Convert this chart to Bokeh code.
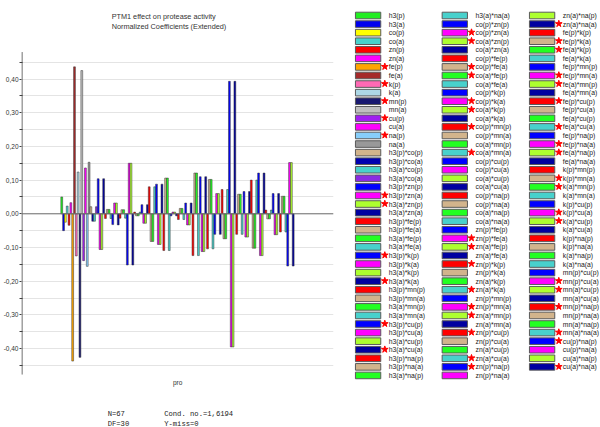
from bokeh.plotting import figure
from bokeh.models import ColumnDataSource, Range1d, FixedTicker, CustomJSTickFormatter, Span
from bokeh.layouts import row
from bokeh.embed import file_html
from bokeh.resources import INLINE
from bokeh.core.properties import value

# ---------------- data ----------------
terms = [
    "h3(p)", "h3(a)", "co(p)", "co(a)", "zn(p)", "zn(a)", "fe(p)", "fe(a)",
    "k(p)", "k(a)", "mn(p)", "mn(a)", "cu(p)", "cu(a)", "na(p)", "na(a)",
    "h3(p)*co(p)", "h3(p)*co(a)", "h3(a)*co(p)", "h3(a)*co(a)",
    "h3(p)*zn(p)", "h3(p)*zn(a)", "h3(a)*zn(p)", "h3(a)*zn(a)",
    "h3(p)*fe(p)", "h3(p)*fe(a)", "h3(a)*fe(p)", "h3(a)*fe(a)",
    "h3(p)*k(p)", "h3(p)*k(a)", "h3(a)*k(p)", "h3(a)*k(a)",
    "h3(p)*mn(p)", "h3(p)*mn(a)", "h3(a)*mn(p)", "h3(a)*mn(a)",
    "h3(p)*cu(p)", "h3(p)*cu(a)", "h3(a)*cu(p)", "h3(a)*cu(a)",
    "h3(p)*na(p)", "h3(p)*na(a)", "h3(a)*na(p)", "h3(a)*na(a)",
    "co(p)*zn(p)", "co(p)*zn(a)", "co(a)*zn(p)", "co(a)*zn(a)",
    "co(p)*fe(p)", "co(p)*fe(a)", "co(a)*fe(p)", "co(a)*fe(a)",
    "co(p)*k(p)", "co(p)*k(a)", "co(a)*k(p)", "co(a)*k(a)",
    "co(p)*mn(p)", "co(p)*mn(a)", "co(a)*mn(p)", "co(a)*mn(a)",
    "co(p)*cu(p)", "co(p)*cu(a)", "co(a)*cu(p)", "co(a)*cu(a)",
    "co(p)*na(p)", "co(p)*na(a)", "co(a)*na(p)", "co(a)*na(a)",
    "zn(p)*fe(p)", "zn(p)*fe(a)", "zn(a)*fe(p)", "zn(a)*fe(a)",
    "zn(p)*k(p)", "zn(p)*k(a)", "zn(a)*k(p)", "zn(a)*k(a)",
    "zn(p)*mn(p)", "zn(p)*mn(a)", "zn(a)*mn(p)", "zn(a)*mn(a)",
    "zn(p)*cu(p)", "zn(p)*cu(a)", "zn(a)*cu(p)", "zn(a)*cu(a)",
    "zn(p)*na(p)", "zn(p)*na(a)", "zn(a)*na(p)", "zn(a)*na(a)",
    "fe(p)*k(p)", "fe(p)*k(a)", "fe(a)*k(p)", "fe(a)*k(a)",
    "fe(p)*mn(p)", "fe(p)*mn(a)", "fe(a)*mn(p)", "fe(a)*mn(a)",
    "fe(p)*cu(p)", "fe(p)*cu(a)", "fe(a)*cu(p)", "fe(a)*cu(a)",
    "fe(p)*na(p)", "fe(p)*na(a)", "fe(a)*na(p)", "fe(a)*na(a)",
    "k(p)*mn(p)", "k(p)*mn(a)", "k(a)*mn(p)", "k(a)*mn(a)",
    "k(p)*cu(p)", "k(p)*cu(a)", "k(a)*cu(p)", "k(a)*cu(a)",
    "k(p)*na(p)", "k(p)*na(a)", "k(a)*na(p)", "k(a)*na(a)",
    "mn(p)*cu(p)", "mn(p)*cu(a)", "mn(a)*cu(p)", "mn(a)*cu(a)",
    "mn(p)*na(p)", "mn(p)*na(a)", "mn(a)*na(p)", "mn(a)*na(a)",
    "cu(p)*na(p)", "cu(p)*na(a)", "cu(a)*na(p)", "cu(a)*na(a)",
]

coefficients = [
    0.050, -0.050, -0.025, 0.023, -0.034, 0.033, -0.437, 0.436,
    -0.125, 0.124, -0.426, 0.425, -0.139, 0.136, -0.156, 0.153,
    0.021, -0.022, -0.022, 0.021,
    0.104, -0.106, -0.106, 0.104,
    -0.014, 0.013, 0.013, -0.014,
    -0.032, 0.032, 0.032, -0.033,
    -0.013, 0.012, 0.012, -0.013,
    -0.152, 0.150, 0.150, -0.152,
    0.005, -0.006, -0.006, 0.005,
    0.027, -0.028, -0.028, 0.027,
    0.080, -0.082, -0.082, 0.080,
    0.088, -0.091, -0.091, 0.088,
    -0.109, 0.106, 0.106, -0.109,
    -0.006, 0.005, 0.005, -0.006,
    -0.017, 0.016, 0.016, -0.017,
    0.032, -0.033, -0.033, 0.032,
    -0.124, 0.121, 0.121, -0.124,
    0.110, -0.112, -0.112, 0.110,
    -0.104, 0.102, 0.102, -0.104,
    -0.061, 0.060, 0.060, -0.061,
    0.072, -0.074, -0.074, 0.072,
    0.393, -0.395, -0.395, 0.393,
    -0.061, 0.058, 0.058, -0.061,
    0.066, -0.069, -0.069, 0.066,
    0.100, -0.102, -0.102, 0.100,
    0.121, -0.124, -0.124, 0.121,
    0.011, -0.015, -0.015, 0.011,
    0.060, -0.062, -0.062, 0.060,
    -0.054, 0.052, 0.052, -0.054,
    -0.155, 0.152, 0.152, -0.155,
]

starred_terms = [
    "fe(p)", "k(p)", "mn(p)", "cu(p)", "na(p)",
    "h3(p)*zn(a)", "h3(a)*zn(p)", "h3(p)*k(p)", "h3(a)*k(a)",
    "h3(p)*cu(p)", "h3(a)*cu(a)",
    "co(p)*zn(a)", "co(a)*zn(p)", "co(p)*fe(a)", "co(a)*fe(p)",
    "co(p)*k(a)", "co(a)*k(p)", "co(p)*mn(p)", "co(a)*mn(a)",
    "zn(p)*fe(a)", "zn(a)*fe(p)", "zn(p)*k(p)", "zn(a)*k(a)",
    "zn(p)*mn(a)", "zn(a)*mn(p)", "zn(p)*cu(p)", "zn(a)*cu(a)",
    "zn(p)*na(p)", "zn(a)*na(a)",
    "fe(p)*k(a)", "fe(a)*k(p)", "fe(p)*mn(a)", "fe(a)*mn(p)",
    "fe(p)*cu(p)", "fe(a)*cu(a)", "fe(p)*na(a)", "fe(a)*na(p)",
    "k(p)*mn(a)", "k(a)*mn(p)", "k(p)*cu(a)", "k(a)*cu(p)",
    "mn(p)*cu(a)", "mn(a)*cu(p)", "mn(p)*na(p)", "mn(a)*na(a)",
    "cu(p)*na(p)", "cu(a)*na(a)",
]

y_tick_values = [-0.40, -0.30, -0.20, -0.10, 0.00, 0.10, 0.20, 0.30, 0.40]
y_minor_values = [-0.45, -0.35, -0.25, -0.15, -0.05, 0.05, 0.15, 0.25, 0.35, 0.45]
axis_extent = [-0.477, 0.480]

title_lines = ["PTM1 effect on protease activity", "Normalized Coefficients (Extended)"]
x_label = "pro"
stats_left = ["N=67", "DF=30"]
stats_right = ["Cond. no.=1,6194", "Y-miss=0"]

# ---------------- styles ----------------
head_colors = ["#22ee22", "#0000ee", "#ffff00", "#48d1cc", "#ff0000", "#ff00ff",
               "#ffa500", "#a52a2a", "#ff69b4", "#add8e6", "#191970", "#c0c0c0",
               "#a020f0", "#ff00ff", "#87cefa", "#999999", "#d2b48c", "#0000b0",
               "#48d1cc", "#8a2be2"]
cycle_colors = ["#ff0000", "#d2b48c", "#22ff22", "#48d1cc", "#0000ff", "#ff00ff",
                "#adff2f", "#0000a0"]
colors = [head_colors[i] if i < len(head_colors) else cycle_colors[i % 8]
          for i in range(len(terms))]

# ---------------- geometry (page pixels) ----------------
W_CHART, W_LEG, H = 350, 250, 427
PITCH = 1.84            # px per bar
BAR0_PX = 57.7          # x of first bar
FRAME_LEFT_PX = 18.0
FRAME_RIGHT_PX = 333.0
ZERO_PX = 213.3         # y of value 0
UNIT_PX = 337.0         # px per 1.0 of coefficient

x_start = -(BAR0_PX - FRAME_LEFT_PX) / PITCH
x_end = (FRAME_RIGHT_PX - BAR0_PX) / PITCH
y_top = ZERO_PX / UNIT_PX
y_bot = -(H - ZERO_PX) / UNIT_PX

def dx(px):
    return (px - BAR0_PX) / PITCH

def dy(py):
    return (ZERO_PX - py) / UNIT_PX

# ---------------- chart ----------------
src = ColumnDataSource(dict(
    x=[i + 0.5 for i in range(len(terms))],
    top=coefficients,
    color=colors,
    term=terms,
))

p = figure(width=W_CHART, height=H, x_range=Range1d(x_start, x_end),
           y_range=Range1d(y_bot, y_top), output_backend="svg",
           toolbar_location=None, x_axis_location=None,
           min_border_left=18, min_border_right=W_CHART - int(FRAME_RIGHT_PX),
           min_border_top=0, min_border_bottom=0)
p.outline_line_color = None
p.background_fill_color = "white"
p.border_fill_color = "white"
for g in p.xgrid:
    g.visible = False

yax = p.yaxis[0]
yax.ticker = FixedTicker(ticks=y_tick_values, minor_ticks=y_minor_values)
yax.formatter = CustomJSTickFormatter(code="return tick.toFixed(2).replace('.', ',');")
yax.major_label_text_font = "Liberation Sans"
yax.major_label_text_font_size = "6.5px"
yax.major_label_text_color = "#333333"
yax.major_label_standoff = 1
yax.major_tick_out = 2
yax.major_tick_in = 0
yax.minor_tick_out = 2
yax.minor_tick_in = 1
yax.axis_line_color = None
yax.major_tick_line_color = "#404040"
yax.minor_tick_line_color = "#404040"

p.ygrid.grid_line_color = "#e4e4e4"
p.ygrid.minor_grid_line_color = "#e4e4e4"

# axis spine limited to the value range
p.segment(x0=[x_start + 0.5 / PITCH], x1=[x_start + 0.5 / PITCH],
          y0=[axis_extent[0]], y1=[axis_extent[1]], line_color="#404040", line_width=1)

p.vbar(x="x", top="top", bottom=0, width=1.0, fill_color="color",
       line_color="#333333", line_width=0.5, source=src)

p.add_layout(Span(location=0, dimension="width", line_color="#707070", line_width=1))

# texts
p.text(x=[dx(109)] * 2, y=[dy(16.0), dy(25.7)], text=title_lines,
       text_font=value("Liberation Sans"), text_font_size="7.3px",
       text_color="#333333", text_baseline="middle", text_align="left")
p.text(x=[dx(175.7)], y=[dy(382)], text=[x_label],
       text_font=value("Liberation Sans"), text_font_size="6.5px",
       text_color="#333333", text_baseline="middle", text_align="center")
p.text(x=[dx(105)] * 2, y=[dy(413), dy(423)], text=stats_left,
       text_font=value("Liberation Mono"), text_font_size="7.2px",
       text_color="#222222", text_baseline="middle", text_align="left")
p.text(x=[dx(162)] * 2, y=[dy(413), dy(423)], text=stats_right,
       text_font=value("Liberation Mono"), text_font_size="7.2px",
       text_color="#222222", text_baseline="middle", text_align="left")

# ---------------- legend ----------------
ROWS = 43
COL_LEFT = [355.0, 441.7, 529.0]
ROW0 = 15.0
ROW_STEP = 8.57

lx, ly, sx_, tx = [], [], [], []
for i in range(len(terms)):
    c, r = divmod(i, ROWS)
    lx.append(COL_LEFT[c] + 12.6)
    ly.append(ROW0 + ROW_STEP * r)
    sx_.append(COL_LEFT[c] + 29.3)
    tx.append(COL_LEFT[c] + 33.3)

leg_src = ColumnDataSource(dict(x=lx, y=ly, color=colors, tx=tx, term=terms))
star_idx = [i for i, t in enumerate(terms) if t in starred_terms]
star_src = ColumnDataSource(dict(x=[sx_[i] for i in star_idx], y=[ly[i] - 0.3 for i in star_idx]))

lg = figure(width=W_LEG, height=H, x_range=Range1d(W_CHART, W_CHART + W_LEG),
            y_range=Range1d(H, 0), output_backend="svg", toolbar_location=None,
            min_border=0, x_axis_location=None, y_axis_location=None)
lg.outline_line_color = None
lg.grid.visible = False
lg.rect(x="x", y="y", width=25.3, height=6.6, fill_color="color",
        line_color="#5a5a5a", line_width=1, source=leg_src)
lg.scatter(x="x", y="y", marker="star", size=7, fill_color="#ff0000",
           line_color="#ff0000", source=star_src)
lg.text(x="tx", y="y", text="term", text_font=value("Liberation Sans"),
        text_font_size="6.8px", text_color="#222222", text_baseline="middle",
        text_align="left", source=leg_src)

layout = row(p, lg)
open("out.html", "w").write(file_html(layout, INLINE))
